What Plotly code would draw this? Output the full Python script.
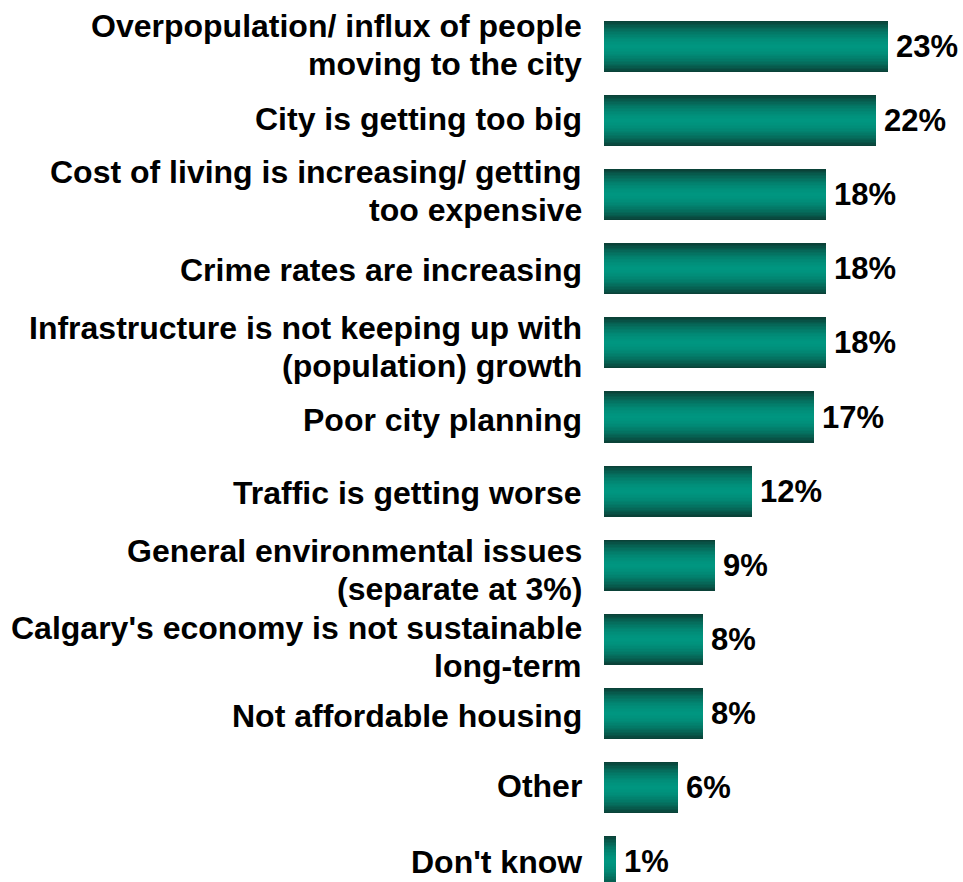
import plotly.graph_objects as go

# Survey responses: reasons the city is heading in the wrong direction
categories = [
    "Overpopulation/ influx of people<br>moving to the city",
    "City is getting too big",
    "Cost of living is increasing/ getting<br>too expensive",
    "Crime rates are increasing",
    "Infrastructure is not keeping up with<br>(population) growth",
    "Poor city planning",
    "Traffic is getting worse",
    "General environmental issues<br>(separate at 3%)",
    "Calgary's economy is not sustainable<br>long-term",
    "Not affordable housing",
    "Other",
    "Don't know",
]
values = [23, 22, 18, 18, 18, 17, 12, 9, 8, 8, 6, 1]

positions = list(range(len(categories)))

# Layout settings
FONT = "Liberation Sans, Arial, Helvetica, sans-serif"
LABEL_SIZE = 32
VALUE_SIZE = 31
LINE_PITCH = 38          # px between the lines of a wrapped label
LABEL_NUDGE = [2, 2, 4, -1, -4, -3, -2, -5, -8, -3, 2, 0]  # px, + moves the label up
BAR_WIDTH = 0.69
EDGE = (10, 66, 56)      # dark teal at the bar edges
CENTER = (0, 150, 128)   # bright teal along the bar middle
LAYERS = 18


def mix(a, b, t):
    return "rgb({},{},{})".format(*[round(a[i] + (b[i] - a[i]) * t) for i in range(3)])


fig = go.Figure()

# Vertical shading: stack progressively thinner, lighter bars on top of each other
for k in range(LAYERS):
    d = 1 - k / LAYERS          # half-thickness relative to the full bar
    shade = min(1.0, d ** 1.8)  # 1 at the edge -> dark, 0 at the centre -> bright
    fig.add_trace(go.Bar(
        x=values,
        y=positions,
        orientation="h",
        width=BAR_WIDTH * d,
        marker=dict(color=mix(CENTER, EDGE, shade), line=dict(width=0)),
        hoverinfo="skip",
        showlegend=False,
    ))

annotations = []
for pos, cat, val, nudge in zip(positions, categories, values, LABEL_NUDGE):
    lines = cat.split("<br>")
    n = len(lines)
    for j, line in enumerate(lines):
        offset = ((n - 1) / 2 - j) * LINE_PITCH
        annotations.append(dict(
            x=0, xref="paper", y=pos, yref="y",
            text=line, showarrow=False,
            xanchor="right", yanchor="middle", align="right",
            xshift=-20, yshift=offset + nudge,
            font=dict(family=FONT, size=LABEL_SIZE, color="black", weight="bold"),
        ))
    annotations.append(dict(
        x=val, xref="x", y=pos, yref="y",
        text=f"{val}%", showarrow=False,
        xanchor="left", yanchor="middle",
        xshift=6,
        font=dict(family=FONT, size=VALUE_SIZE, color="black", weight="bold"),
    ))

fig.update_layout(
    width=963,
    height=882,
    margin=dict(l=604, r=0, t=0, b=0),
    paper_bgcolor="white",
    plot_bgcolor="white",
    barmode="overlay",
    bargap=0,
    annotations=annotations,
    xaxis=dict(range=[0, 29.07], visible=False, showgrid=False, zeroline=False),
    yaxis=dict(range=[11.275, -0.6275], visible=False, showgrid=False, zeroline=False),
)

fig.write_html("out.html")
